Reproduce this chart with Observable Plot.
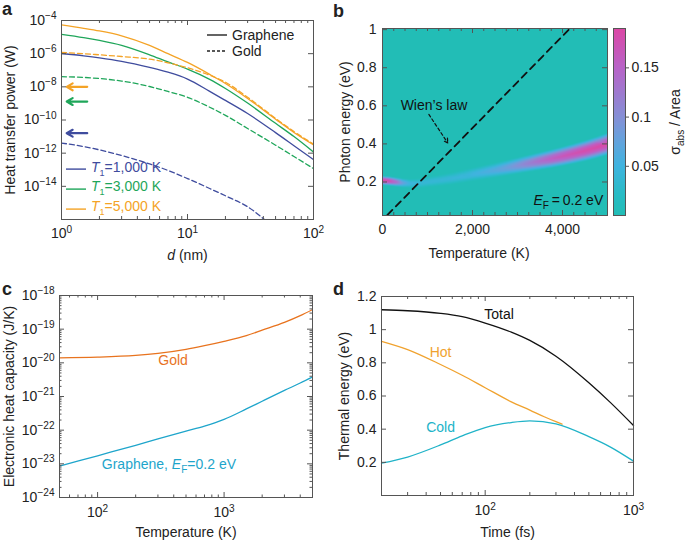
<!DOCTYPE html>
<html><head><meta charset="utf-8">
<script src="https://cdn.jsdelivr.net/npm/d3@7"></script>
<script src="https://cdn.jsdelivr.net/npm/@observablehq/plot@0.6"></script>
<style>
body{margin:0;background:#fff;font-family:"Liberation Sans",Arial,Helvetica,sans-serif;color:#222;}
#fig{position:relative;width:685px;height:540px;overflow:hidden;background:#fff;}
.pan{position:absolute;}
.lab{position:absolute;font-weight:bold;font-size:18px;line-height:18px;}
.leg{position:absolute;font-size:14px;line-height:16px;white-space:nowrap;display:flex;align-items:center;transform:translateY(-50%);}
.leg svg{margin-right:5px;}
</style></head><body><div id="fig"></div>
<script>
const FONT = '"Liberation Sans", Arial, Helvetica, sans-serif';
const INK = "#222", FRAME = "#555";
const COL = {blue:"#3f4c9e", green:"#1fa65a", orange:"#f4a326", gold:"#e8731e", graph:"#1ea5cb", cold:"#20b3c8", hot:"#f0a22e", total:"#111"};

// ---------- Panel a data (log10 of heat transfer power, W) ----------
const aD = [1, 1.5, 2, 3, 5, 7, 10, 15, 20, 30, 50, 70, 100];
const aGraphene1000 = [-5.99,-6.13,-6.25,-6.46,-6.83,-7.12,-7.53,-8.27,-8.82,-9.61,-10.76,-11.55,-12.39];
const aGraphene3000 = [-4.83,-5.03,-5.2,-5.5,-6.07,-6.5,-6.93,-7.55,-8.1,-8.98,-10.2,-11.0,-11.93];
const aGraphene5000 = [-4.27,-4.47,-4.63,-4.92,-5.5,-6.0,-6.53,-7.25,-7.8,-8.7,-9.95,-10.75,-11.5];
const aGold1000 = [-11.39,-11.6,-11.8,-12.14,-12.65,-13.04,-13.53,-14.13,-14.57,-15.23,-16.57,-17.5,-18.4];
const aGold3000 = [-7.39,-7.43,-7.5,-7.65,-7.98,-8.28,-8.63,-9.23,-9.72,-10.51,-11.52,-12.2,-12.93];
const aGold5000 = [-5.93,-6.0,-6.07,-6.17,-6.33,-6.55,-6.85,-7.3,-7.72,-8.63,-9.9,-10.7,-11.45];
const aArrowD = [1.6, 1.1];
const aArrowP = [1e-8, 1.3e-9, 1.6e-11]; // 5000 K, 3000 K, 1000 K
const aXTicks = [1, 10, 100];
const aYTicks = [1e-4, 1e-6, 1e-8, 1e-10, 1e-12, 1e-14];
const aLegendT = ["1,000", "3,000", "5,000"];

// ---------- Panel b data ----------
const bBandT    = [0, 150, 300, 450, 600, 800, 1000, 1250, 1500, 1750, 2000, 2250, 2500, 2750, 3000, 3250, 3500, 3750, 4000, 4250, 4500, 4750, 5000];
const bBandE    = [0.208, 0.205, 0.2, 0.195, 0.192, 0.193, 0.2, 0.208, 0.217, 0.228, 0.24, 0.251, 0.262, 0.274, 0.286, 0.298, 0.31, 0.322, 0.335, 0.349, 0.364, 0.381, 0.40];
const bBandPeak = [0.19, 0.18, 0.14, 0.08, 0.05, 0.04, 0.04, 0.04, 0.042, 0.045, 0.05, 0.058, 0.068, 0.082, 0.10, 0.12, 0.14, 0.158, 0.17, 0.178, 0.185, 0.188, 0.19];
const bBandHalf = [0.025, 0.025, 0.025, 0.025, 0.025, 0.026, 0.028, 0.03, 0.032, 0.034, 0.036, 0.038, 0.04, 0.042, 0.044, 0.046, 0.048, 0.05, 0.052, 0.054, 0.056, 0.058, 0.06];
const bProfile  = [1, 0.85, 0.45, 0]; // relative level at 0, 1/3, 2/3, 1 half-width
const bWienT = [110, 4180];
const bWienE = [0.027, 1.01];
const bXTicks = [0, 2000, 4000];
const bYTicks = [0.2, 0.4, 0.6, 0.8, 1];
const cbStops  = [0, 0.02, 0.05, 0.08, 0.1, 0.15, 0.19];
const cbColors = ["#22bdb6", "#27bcc4", "#3fb4df", "#6aa0dc", "#8690d6", "#b864c8", "#dc48a6"];
const cbTicks = [0.05, 0.1, 0.15];

// ---------- Panel c data (log10 of heat capacity, J/K) ----------
const cT = [50, 100, 200, 300, 500, 700, 1000, 1500, 2000, 3000, 4000, 5000];
const cGold = [-19.85,-19.83,-19.78,-19.72,-19.6,-19.49,-19.36,-19.19,-19.03,-18.8,-18.6,-18.42];
const cGraphene = [-23.07,-22.76,-22.45,-22.26,-22.03,-21.88,-21.68,-21.37,-21.14,-20.82,-20.6,-20.42];
const cXTicks = [100, 1000];
const cYTicks = [1e-18, 1e-19, 1e-20, 1e-21, 1e-22, 1e-23, 1e-24];

// ---------- Panel d data (thermal energy, eV) ----------
const dT = [20, 30, 50, 70, 100, 150, 200, 300, 500, 700, 1000];
const dTotal = [1.12, 1.114, 1.098, 1.078, 1.04, 0.985, 0.935, 0.84, 0.68, 0.56, 0.422];
const dCold = [0.195, 0.232, 0.305, 0.36, 0.41, 0.44, 0.45, 0.432, 0.355, 0.292, 0.207];
const dHotT = [20, 30, 50, 70, 100, 150, 200, 250, 300, 330];
const dHot = [0.93, 0.88, 0.79, 0.725, 0.65, 0.565, 0.515, 0.475, 0.445, 0.43];
const dXTicks = [100, 1000];
const dYTicks = [0.2, 0.4, 0.6, 0.8, 1, 1.2];

// ---------- helpers ----------
const pow10 = d => { const e = Math.round(Math.log10(d)); return `10^{${e < 0 ? "\u2212" + (-e) : e}}`; };
const logMinor = (lo, hi) => { const out = []; for (let e = Math.floor(Math.log10(lo)); e <= Math.ceil(Math.log10(hi)); e++) for (let m = 2; m <= 9; m++) { const v = m * 10 ** e; if (v > lo * 1.0001 && v < hi * 0.9999) out.push(v); } return out; };
function frameTicks({xMaj = [], xMin = [], yMaj = [], yMin = [], fw, fh, L = 5, S = 3}) {
  const st = {stroke: FRAME, strokeWidth: 1};
  return [
    Plot.tickX(xMaj, {...st, x: d => d, insetTop: fh - L}),
    Plot.tickX(xMaj, {...st, x: d => d, insetBottom: fh - L}),
    Plot.tickX(xMin, {...st, x: d => d, insetTop: fh - S}),
    Plot.tickX(xMin, {...st, x: d => d, insetBottom: fh - S}),
    Plot.tickY(yMaj, {...st, y: d => d, insetRight: fw - L}),
    Plot.tickY(yMaj, {...st, y: d => d, insetLeft: fw - L}),
    Plot.tickY(yMin, {...st, y: d => d, insetRight: fw - S}),
    Plot.tickY(yMin, {...st, y: d => d, insetLeft: fw - S})
  ];
}
const NS = "http://www.w3.org/2000/svg";
function rich(svg) {
  svg.querySelectorAll("text").forEach(t => {
    const targets = t.querySelector("tspan") ? [...t.querySelectorAll("tspan")] : [t];
    targets.forEach(el => {
      const s = el.textContent;
      if (!/\*|_\{|\^\{/.test(s)) return;
      const parts = s.split(/(\*[^*]+\*|_\{[^}]*\}|\^\{[^}]*\})/).filter(p => p !== "");
      el.textContent = "";
      let shift = 0;
      for (const p of parts) {
        const ts = document.createElementNS(NS, "tspan");
        let txt = p, scale = 1, target = 0;
        if (p[0] === "*") { txt = p.slice(1, -1); ts.setAttribute("font-style", "italic"); }
        else if (p.startsWith("_{")) { txt = p.slice(2, -1); scale = 0.72; target = 0.28; }
        else if (p.startsWith("^{")) { txt = p.slice(2, -1); scale = 0.72; target = -0.42; }
        if (scale !== 1) ts.setAttribute("font-size", scale + "em");
        const d = target - shift;
        if (Math.abs(d) > 1e-6) ts.setAttribute("dy", (d / scale).toFixed(3) + "em");
        shift = target;
        ts.textContent = txt;
        el.appendChild(ts);
      }
    });
  });
}
const fig = document.getElementById("fig");
function place(svg, left, top) {
  rich(svg);
  const w = document.createElement("div");
  w.className = "pan"; w.style.left = left + "px"; w.style.top = top + "px";
  w.appendChild(svg); fig.appendChild(w);
}
const STYLE = {fontFamily: FONT, fontSize: "14px", color: INK, background: "transparent", overflow: "visible"};
const txt = (s, o) => Plot.text([s], {text: d => d, textAnchor: "middle", lineAnchor: "middle", ...o});

// ---------- Panel a ----------
{
  const W = 340, H = 270, m = {l: 61, r: 27, t: 20, b: 51};
  const fw = W - m.l - m.r, fh = H - m.t - m.b;
  const ser = (vals, color, dash) => Plot.line(aD.map((d, i) => ({d, p: 10 ** vals[i]})),
    {x: "d", y: "p", stroke: color, strokeWidth: 1.3, strokeDasharray: dash, curve: "monotone-x", clip: true});
  const arrowCols = [COL.orange, COL.green, COL.blue];
  const svg = Plot.plot({
    width: W, height: H, marginLeft: m.l, marginRight: m.r, marginTop: m.t, marginBottom: m.b,
    style: STYLE,
    x: {type: "log", domain: [1, 100]},
    y: {type: "log", domain: [1e-16, 1e-4]},
    marks: [
      ser(aGraphene1000, COL.blue), ser(aGraphene3000, COL.green), ser(aGraphene5000, COL.orange),
      ser(aGold1000, COL.blue, "5,3"), ser(aGold3000, COL.green, "5,3"), ser(aGold5000, COL.orange, "5,3"),
      ...aArrowP.map((p, i) => Plot.arrow([p], {x1: aArrowD[0], x2: aArrowD[1], y1: d => d, y2: d => d, stroke: arrowCols[i], strokeWidth: 2.2, headLength: 7})),
      Plot.frame({stroke: FRAME}),
      ...frameTicks({xMaj: aXTicks, xMin: logMinor(1, 100), yMaj: aYTicks, yMin: [], fw, fh}),
      Plot.axisX(aXTicks, {tickSize: 0, tickPadding: 9, tickFormat: pow10, label: null}),
      Plot.axisY(aYTicks, {tickSize: 0, tickPadding: 5, tickFormat: pow10, label: null}),
      txt("*d* (nm)", {frameAnchor: "bottom", dy: 36}),
      txt("Heat transfer power (W)", {frameAnchor: "left", rotate: -90, dx: -51})
    ]
  });
  place(svg, 0, 0);
}

// ---------- Panel b ----------
{
  const W = 272, H = 270, m = {l: 42, r: 5, t: 28, b: 55};
  const fw = W - m.l - m.r, fh = H - m.t - m.b;
  const yD = [0.024, 1.006];
  const pts = [];
  bBandT.forEach((T, i) => {
    const e = bBandE[i], h = bBandHalf[i], p = bBandPeak[i];
    bProfile.forEach((lv, k) => {
      const off = h * k / (bProfile.length - 1);
      if (k === 0) pts.push({T, E: e, v: p * lv});
      else { pts.push({T, E: e - off, v: p * lv}); pts.push({T, E: e + off, v: p * lv}); }
    });
    pts.push({T, E: Math.max(yD[0], e - 2 * h), v: 0}, {T, E: e + 2 * h, v: 0},
             {T, E: yD[0], v: 0}, {T, E: yD[1], v: 0}, {T, E: 0.7, v: 0});
  });
  const wien = bWienT.map((T, i) => ({T, E: bWienE[i]}));
  const svg = Plot.plot({
    width: W, height: H, marginLeft: m.l, marginRight: m.r, marginTop: m.t, marginBottom: m.b,
    style: STYLE,
    x: {domain: [0, 5000]},
    y: {domain: yD},
    color: {type: "linear", domain: cbStops, range: cbColors, clamp: true},
    marks: [
      Plot.raster(pts, {x: "T", y: "E", fill: "v", interpolate: "barycentric", x1: 0, x2: 5000, y1: yD[0], y2: yD[1], pixelSize: 1}),
      Plot.line(wien, {x: "T", y: "E", stroke: "#111", strokeWidth: 1.8, strokeDasharray: "7,5", clip: true}),
      Plot.arrow([0], {x1: 1030, y1: 0.555, x2: 1450, y2: 0.405, stroke: "#111", strokeWidth: 1.2, strokeDasharray: "3,2.5", headLength: 6}),
      Plot.text([0], {x: 1144, y: 0.6, text: () => "Wien\u2019s law", fill: "#111"}),
      Plot.text([0], {x: 4905, y: 0.103, text: () => "*E*_{F}\u2009=\u20090.2 eV", textAnchor: "end", fill: "#111"}),
      Plot.frame({stroke: FRAME}),
      ...frameTicks({xMaj: bXTicks, xMin: d3.range(250, 5000, 250).filter(v => v % 2000), yMaj: bYTicks, yMin: [], fw, fh}),
      Plot.axisX(bXTicks, {tickSize: 0, tickPadding: 9, tickFormat: d3.format(","), label: null}),
      Plot.axisY(bYTicks, {tickSize: 0, tickPadding: 6, tickFormat: d => String(d), label: null}),
      txt("Temperature (K)", {frameAnchor: "bottom", dy: 38, dx: -16}),
      txt("Photon energy (eV)", {frameAnchor: "left", rotate: -90, dx: -37})
    ]
  });
  place(svg, 340, 0);
}

// ---------- Colorbar ----------
{
  const W = 80, H = 270, m = {l: 8, r: 60, t: 28, b: 55};
  const svg = Plot.plot({
    width: W, height: H, marginLeft: m.l, marginRight: m.r, marginTop: m.t, marginBottom: m.b,
    style: STYLE,
    x: {domain: [0, 1], axis: null},
    y: {domain: [0, 0.19], axis: null},
    color: {type: "linear", domain: cbStops, range: cbColors, clamp: true},
    marks: [
      Plot.raster({fill: (x, y) => y, x1: 0, x2: 1, y1: 0, y2: 0.19, pixelSize: 1}),
      Plot.frame({stroke: FRAME}),
      Plot.axisY(cbTicks, {anchor: "right", tickSize: 3, tickPadding: 3, tickFormat: d => String(d), label: null, stroke: FRAME}),
      txt("\u03C3_{abs} / Area", {frameAnchor: "right", rotate: -90, dx: 50})
    ]
  });
  place(svg, 605, 0);
}

// ---------- Panel c ----------
{
  const W = 340, H = 270, m = {l: 59, r: 28, t: 25, b: 43};
  const fw = W - m.l - m.r, fh = H - m.t - m.b;
  const ser = (vals, color) => Plot.line(cT.map((T, i) => ({T, c: 10 ** vals[i]})),
    {x: "T", y: "c", stroke: color, strokeWidth: 1.3, curve: "monotone-x", clip: true});
  const svg = Plot.plot({
    width: W, height: H, marginLeft: m.l, marginRight: m.r, marginTop: m.t, marginBottom: m.b,
    style: STYLE,
    x: {type: "log", domain: [50, 5000]},
    y: {type: "log", domain: [1e-24, 1e-18]},
    marks: [
      ser(cGold, COL.gold), ser(cGraphene, COL.graph),
      Plot.text([0], {x: 395, y: 10 ** -19.93, text: () => "Gold", fill: COL.gold}),
      Plot.text([0], {x: 108, y: 10 ** -23.01, text: () => "Graphene, *E*_{F}=0.2 eV", textAnchor: "start", fill: COL.graph}),
      Plot.frame({stroke: FRAME}),
      ...frameTicks({xMaj: cXTicks, xMin: logMinor(50, 5000), yMaj: cYTicks, yMin: logMinor(1e-24, 1e-18), fw, fh, S: 2.5}),
      Plot.axisX(cXTicks, {tickSize: 0, tickPadding: 10, tickFormat: pow10, label: null}),
      Plot.axisY(cYTicks, {tickSize: 0, tickPadding: 5, tickFormat: pow10, label: null}),
      txt("Temperature (K)", {frameAnchor: "bottom", dy: 35}),
      txt("Electronic heat capacity (J/K)", {frameAnchor: "left", rotate: -90, dx: -50})
    ]
  });
  place(svg, 0, 270);
}

// ---------- Panel d ----------
{
  const W = 345, H = 270, m = {l: 41, r: 52, t: 26, b: 45};
  const fw = W - m.l - m.r, fh = H - m.t - m.b;
  const ser = (ts, vals, color) => Plot.line(ts.map((t, i) => ({t, e: vals[i]})),
    {x: "t", y: "e", stroke: color, strokeWidth: 1.3, curve: "monotone-x"});
  const svg = Plot.plot({
    width: W, height: H, marginLeft: m.l, marginRight: m.r, marginTop: m.t, marginBottom: m.b,
    style: STYLE,
    x: {type: "log", domain: [20, 1000]},
    y: {domain: [0, 1.2]},
    marks: [
      ser(dHotT, dHot, COL.hot), ser(dT, dCold, COL.cold), ser(dT, dTotal, COL.total),
      Plot.text([0], {x: 124, y: 1.09, text: () => "Total", fill: "#111"}),
      Plot.text([0], {x: 50, y: 0.864, text: () => "Hot", fill: COL.hot}),
      Plot.text([0], {x: 50, y: 0.41, text: () => "Cold", fill: COL.cold}),
      Plot.frame({stroke: FRAME}),
      ...frameTicks({xMaj: dXTicks, xMin: logMinor(20, 1000), yMaj: dYTicks.slice(0, -1), yMin: [], fw, fh}),
      Plot.axisX(dXTicks, {tickSize: 0, tickPadding: 10, tickFormat: pow10, label: null}),
      Plot.axisY(dYTicks, {tickSize: 0, tickPadding: 5, tickFormat: d => String(d), label: null}),
      txt("Time (fs)", {frameAnchor: "bottom", dy: 37}),
      txt("Thermal energy (eV)", {frameAnchor: "left", rotate: -90, dx: -37})
    ]
  });
  place(svg, 340, 270);
}

// ---------- Overlays: panel letters and legends ----------
[["a", 2, 0], ["b", 333, 2], ["c", 2, 280], ["d", 333, 280]].forEach(([s, x, y]) => {
  const d = document.createElement("div"); d.className = "lab"; d.textContent = s;
  d.style.left = x + "px"; d.style.top = y + "px"; fig.appendChild(d);
});
function legend(x, y, color, dash, html, textColor) {
  const d = document.createElement("div"); d.className = "leg";
  d.style.left = x + "px"; d.style.top = y + "px"; d.style.color = textColor;
  d.innerHTML = `<svg width="20" height="4"><line x1="0" y1="2" x2="20" y2="2" stroke="${color}" stroke-width="1.4" ${dash ? `stroke-dasharray="${dash}"` : ""}/></svg><span>${html}</span>`;
  fig.appendChild(d);
}
legend(207, 35, INK, null, "Graphene", INK);
legend(207, 51, INK, "3,2", "Gold", INK);
[[COL.blue, 169.5], [COL.green, 189], [COL.orange, 209]].forEach(([c, y], i) =>
  legend(66, y, c, null, `<i>T</i><sub style="font-size:9px">1</sub>=${aLegendT[i]} K`, c));
</script></body></html>
